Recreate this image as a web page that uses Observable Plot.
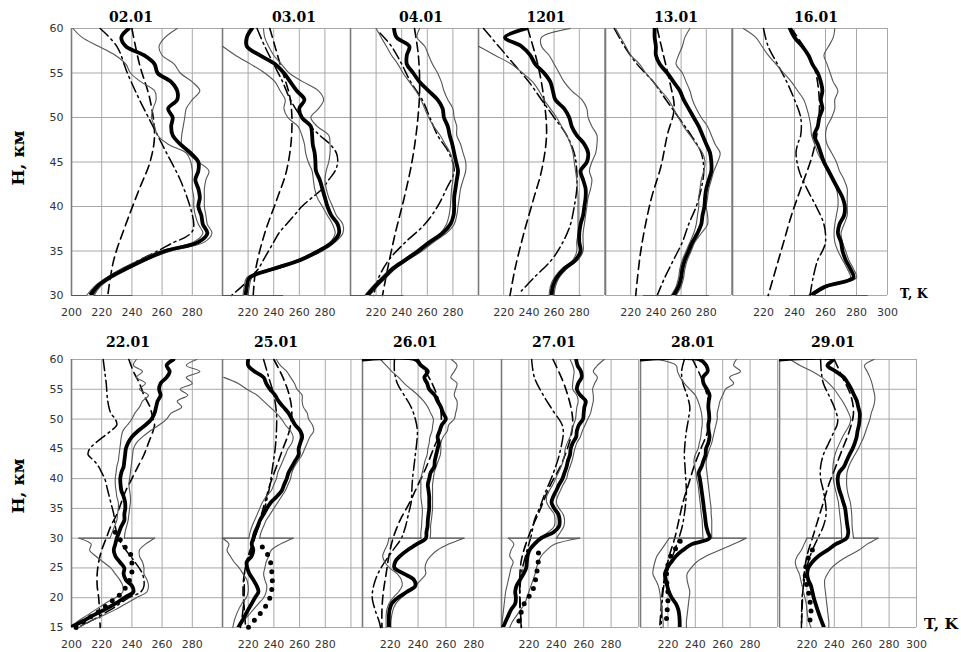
<!DOCTYPE html>
<html><head><meta charset="utf-8">
<script src="https://cdn.jsdelivr.net/npm/d3@7"></script>
<script src="https://cdn.jsdelivr.net/npm/@observablehq/plot@0.6"></script>
<style>
body{margin:0;background:#fff;}
#chart{position:relative;width:961px;height:652px;overflow:hidden;background:#fff;}
.ttl{position:absolute;font-family:"DejaVu Serif",serif;font-weight:bold;font-size:14px;color:#000;transform:translate(-50%,-50%);white-space:nowrap;}
.ylab{position:absolute;font-family:"DejaVu Serif",serif;font-weight:bold;font-size:17px;color:#000;transform:translate(-50%,-50%) rotate(-90deg);white-space:nowrap;}
.xlab{position:absolute;font-family:"DejaVu Serif",serif;font-weight:bold;color:#000;transform:translate(0,-50%);white-space:nowrap;}
</style></head>
<body><div id="chart"></div>
<script>
// ---------- axes / grids ----------
const H_TOP = [60,59,58,57,56,55,54,53,52,51,50,49,48,47,46,45,44,43,42,41,40,39,38,37,36,35,34,33,32,31,30];
const H_BOT = [60,59,58,57,56,55,54,53,52,51,50,49,48,47,46,45,44,43,42,41,40,39,38,37,36,35,34,33,32,31,30,29,28,27,26,25,24,23,22,21,20,19,18,17,16,15];
const H_UPPER = H_TOP;
const H_LOWER = [30,29,28,27,26,25,24,23,22,21,20,19,18,17,16,15];
const YT_TOP = [30,35,40,45,50,55,60];
const YT_BOT = [15,20,25,30,35,40,45,50,55,60];
const XT_FIRST = [200,220,240,260,280];
const XT_MID = [220,240,260,280];
const XT_LAST = [220,240,260,280,300];
const XGRID = [200,220,240,260,280,300];
const TITLES_TOP = ["02.01","03.01","04.01","1201","13.01","16.01"];
const TITLES_BOT = ["22.01","25.01","26.01","27.01","28.01","29.01"];

// ---------- top row data (T in K on H_TOP) ----------
const T_0201 = [238,233,236,248,255,257,266,270,270,264,267,266,267,272,279,284,284,282,284,285,284,286,287,290,284,262,248,236,225,217,213];
const R_0201 = [270,262,258,260,268,272,280,285,280,276,275,274,273,273,277,284,291,289,288,288,288,289,290,293,288,266,250,238,227,219,215];
const L_0201 = [201,207,218,229,236,239,246,255,256,254,253,255,257,264,276,279,280,280,280,281,281,282,284,287,281,259,245,233,223,215,210];
const D_0201 = [[60,240],[56,245],[52,252],[48,255],[45,252],[42,245],[38,236],[34,228],[30,224]];
const DD_0201 = [[60,219],[58,230],[55,237],[52,245],[49,254],[46,263],[43,272],[40,278.5],[38,281],[37.2,280],[36.5,275],[36,268],[35,257],[34,245],[33,234],[32,224],[31,216],[30,211]];

const T_0301 = [223,219,219,229,241,248,253,258,264,260,262,269,270,270.5,272,272.6,273,276,278,280,282,285,290,291,286,275,261,240,221,219,218];
const R_0301 = [232,233,236,240,246,252,263,275,279,275,269,274,283,284,284,283,281,280,281,283,286,289,294,294,288,278,263,243,223,221,220];
const L_0301 = [null,null,200,210,222,233,241,245,249,248,251,259,262,264,265,267,270,271,272,274,278,282,286,288,284,273,258,237,219,217,216];
const D_0301 = [[60,237],[56,245],[52,253],[48,254],[44,250],[41,243],[37,233],[33,226],[30,224]];
const DD_0301 = [[60,227],[58,233],[56,240],[54,247],[52,253],[50,262],[48,276],[47,284],[46,289],[45,290],[44,288],[43,283],[42,278],[41,270],[40,262],[39,256],[38,250],[37,244],[36,240],[35,236],[34,232],[33,228],[32,222],[31,215],[30,207]];

const T_0401 = [234,236,246,244,244,249,254,261,268,272,273,276,277.5,279.5,281,282.5,284,283,282,281,281,280.5,278,272,262,253,243,233,226,219,213];
const R_0401 = [254,252,258,261,264,268,271,273,276,280,281,283,283,286,288,290,290,288,286,285,284,283,281,275,265,256,245,235,228,221,215];
const L_0401 = [220,224,228,232,237,241,246,251,255,258,261,265,270,274,278,280,280,280,279,278.5,278,277,275,270,260,251,241,231,224,217,211];
const D_0401 = [[60,250],[57,253],[53,254],[49,252],[45,248],[41,242],[37,235],[33,229],[30,225]];
const DD_0401 = [[59.5,223],[58,232],[56,240],[54,247],[52,256],[50,262],[48,268],[46,277],[44,281],[42,275],[40,268],[38,258],[36,243],[34,230],[32,222],[30,218]];

const T_1201 = [238,221,234,241,245,252,257,259,261,268,272,274,278,284,287,286,281,283,285,285,284,283,281,280,280,281,277,268,262,259,258];
const R_1201 = [273,250,250,256,260,264,268,274,282,286,287,290,294,294,293,290,288,290,289,287,286,285,284,283,283,283,279,270,264,261,260];
const L_1201 = [null,null,200,213,226,235,243,248,252,257,262,266,270,273,275,276,277,278,278.5,279,279,279,279,279,278,278,275,266,260,257,256];
const D_1201 = [[60,239],[56,247],[52,252],[48,254],[44,250],[41,244],[37,236],[33,229],[30,225]];
const DD_1201 = [[60,204],[58,216],[56,228],[54,240],[52,250],[50,260],[48,270],[46,276],[44,278],[42,278],[40,276],[38,273],[36,267],[34,258],[32,244],[30.5,234]];

const T_1301 = [239,239,240,240,243,249,254,259,262,266,270,274,277,280,283,284,284,282,280,279,278.5,277,276,273,269,266,263,261,260,258,254];
const R_1301 = [267,263,261,258,256,261,264,267,269,272,276,281,284,287,291,289,286,284,282,281,280,281,281,276,271,268,265,263,262,260,256];
const L_1301 = [208,212,216,220,227,232,238,244,250,254,258,262,267,272,277,279,278,276,275,274,274,273,272,270,267,264,261,259,258,256,252];
const D_1301 = [[60,241],[57,246],[54,251],[51,254.5],[48,249],[44.5,244],[40.7,236],[35,228],[30,224]];
const DD_1301 = [[60,207],[58,215],[56,225],[54,238],[52,248],[50,258],[48,268],[46,276],[44,278],[42,276],[40,272],[38,266],[36,261],[34,254],[32,247],[30,241]];

const T_1601 = [237,240,245,249,251.5,255,257,258,257,258,256,255,252.7,255,257,259,262,265,268,271,272.5,272,269,268,270,271,273,276,278,260,250.5];
const R_1601 = [266,265,262,259,261,263,265,268,266,266,264,261,260,261,264,267,269,272,274,274,274,274,272,270,271,273,275,278,280,262,252];
const L_1601 = [207,215,219,223,228,233,238,242,246,248,249.5,250.5,251,253,255,258,261,264,267,268,268,267,266,265.5,266,268,271,274,276,258,249];
const D_1601 = [[60,238],[56,252],[52,256],[48.8,255],[45.8,251.6],[42,244],[39,238],[36,233],[33,228],[30,223]];
const DD_1601 = [[60,220],[58,223],[56,229],[54,235],[52,240],[50,244],[48,244],[47,242],[46,241],[44,243],[42,248],[40,254],[38,259],[36,260],[35,258],[34,255],[32,252],[30,250]];

// horizontal closing of the thin lines at 30 km (left end, right end)
const BASE_L = [200,200,200,228,230,237];
const BASE_R = [240,247,241,281,282,287];

// ---------- bottom row data ----------
const T_2201 = [267.5,263,265,263,259,258,259,257,256,255,253,249,244,240,237.5,236,235.5,235,234.5,233,232.3,232.5,233,234.5,235.5,235.6,235,235,233,231.5,230,229,228,229,232,235,234.5,236,240,241,235,229,222,214,207,199];
const R_2201a = [283,276,285,276,280,272,277,270,273,266,263,258,252,247,243,241,240.5,240,239.5,239,238.5,238,238.5,239,239,238.5,238,237.5,236.5,235.5,235];
const R_2201b = [255,249,245,245,247,248,248,250,251,250,243,236,229,221,212,205];
const L_2201a = [243,241,247,243,249,245,251,247,245,242,240,237,234,233,232.5,232,231.5,231,230,229.5,229,229,229.5,230,231,231,230.5,230,228.5,227,225.5];
const L_2201b = [205,213,212,216,221,226,229,232,234,234,229,222,216,210,204,200];
const P_2201 = [[31,229],[28.3,236],[27,240],[25.5,240],[24,240],[22,237],[20.5,232],[19.5,227],[18,220],[16.5,211],[15,203]];
const D_2201 = [[60,238],[58,241],[56,245],[54,248],[52,252],[50,254],[49,255],[48,254],[46,251],[44,248],[42,244],[40,240],[38,236],[36,233],[34,230],[32,226],[30,223],[28,220],[26,218],[24,217],[22,217],[20,218],[18,218.5],[15,219]];
const DD_2201 = [[60,221],[58,222],[56,223],[53,224],[51,226],[50,229],[49,230],[48,226],[47,221],[46,216],[45,212],[44,211],[43,215],[42,218],[41,220],[40,222],[38,224],[36,226],[34,228],[32,229],[30,231],[28,236],[26,242],[24,247],[22,248],[21,246],[20,238],[18,226],[16,212],[15,204]];

const T_2501 = [220,220,225,232,234,237,241,243.6,247.5,251.4,254,256.6,260.6,262,260.6,259.3,259.3,256.6,254,251.4,250,248,246.2,242.3,237.6,234.5,231.9,229.2,227.4,225.3,224,222.7,224,222.7,218.8,219.3,221,224,226.6,228,225.3,222.7,220,217.5,215,212.3];
const R_2501a = [242,245,250,253,256,258,262,262,263,266,267,270,271,268,266,264,262,259,256,254,253,251,249,246,243,240,237,234,232,230,229];
const R_2501b = [255,245,238,236,234,233,232,233,234.5,234,232,228,224,220,216,213];
const L_2501a = [null,null,null,201,212,219,227,232,237,242,246,249,253,255,254,251,249,247,245,243,242,240,238,234,231,229,227,225,223,221.5,220.5];
const L_2501b = [200,205,203.5,206,209,213,216,219,220,220,218.5,215,212.5,210.5,209,208];
const P_2501 = [[28.5,231],[27,236],[25.5,238],[24,238.5],[22,239],[20,237],[18.7,234],[17.5,230],[16.5,226],[15.5,222],[15,220]];
const D_2501 = [[60,240],[57,247],[54,252],[51,254],[48,252],[45,247],[42,242],[39,237],[36,233],[33,229],[30,225],[27,221],[24,217],[21,216],[18,217],[15,218]];
const DD_2501 = [[60,232],[57,236],[54,240],[51,242],[48,242],[45,241],[42,239],[39,237],[36,234],[33,230],[30,225],[27,220],[24,217],[21,217],[18,216],[15,214]];

const T_2601 = [238,242,247,244.5,246.5,248,252,254,256.4,258,260,257,255.5,254,255,254,253,252,251.6,249,248,247,247.5,248,248,248,247.5,247,246.8,246,245.6,239,232.5,227,223.5,223,230,237,238,232,225.5,221,219.5,219,219,219];
const R_2601a = [264,268,266,263.5,268,267,266,268,268,267,266,262,261,258,256.4,256.4,256,254.5,253,251.6,251,250.4,250.4,250.4,250.4,250.4,250,249.5,249,249,248.7];
const R_2601b = [273,262,254,249,246,245,245.5,242,238,233,228,224,222,221,220.5,220.4];
const L_2601a = [213,217,221,226,230,235,240,244,247,249,251,250.5,250,248.5,248,247,246.5,245,244,243,242,242,242,242,242.5,243,243,242.7,242.5,242,242];
const L_2601b = [219,218,216,214.5,216,219.5,225,228,228.5,226,222,219,217.5,217,217,217];
const D_2601 = [[60,240],[56,250],[52,256],[48,256],[45,251],[42,246],[39,240],[36,234],[33,227],[30,222],[27,219],[24,217],[21,215],[18,214],[15,214]];
const DD_2601 = [[60,223],[58,223],[56,225],[54,230],[52,235],[50,238],[48,239.5],[46,239],[44,238],[42,237],[40,236],[38,235.5],[36,235],[34,233],[32,231],[30,228],[28,222],[26,216],[24,211],[22,208],[20,207],[18,209],[16,212],[15,213]];

const T_2701 = [254.5,255.5,258,258.5,256,255,257.5,261.5,260.5,260,259.5,256.5,255,254.5,252,250.5,250,248.5,247.5,246,244.5,242,240,237.8,236.5,238.5,241.5,242.4,242,238,229,224,220.5,219,218.5,218,216,213.5,211,210,210.5,210,207,205,203,201];
const R_2701a = [275,270,267,270,268,266.5,267,267,266,265,263,261,259,257.5,255,253.5,252.5,251.5,250,248.5,247.5,245,243,241,240,242,245,246,245.5,243,240];
const R_2701b = [257,239,233,229,227,225.5,224.5,223,221.5,220,218.5,217,214,211,208,206];
const L_2701a = [250,252,253,252.5,252,252,255,256,255,254.5,254,252.5,251,250,248,246.5,246,245,243.5,241.5,239.5,237.5,235,233,233,235.5,238.5,239,238.5,234,227];
const L_2701b = [205,209,207,206,208.5,207,206,205,204,203,202.5,202,201.5,201,200.5,200];
const P_2701 = [[27.5,227],[25.4,226.7],[24,225.5],[22.1,224.2],[20.7,221.8],[19.3,217],[18,215],[16.8,213.3],[15.3,212],[15,212]];
const D_2701 = [[60,237.6],[55,247],[49.2,252],[43,244.8],[38.6,235],[34.7,228],[30.8,220.6],[26.3,214.5],[21.8,213.3],[15,214.5]];
const DD_2701 = [[60,222],[57,224],[54,230.5],[51.4,237.6],[48.6,244.8],[44.2,242.4],[40.8,237.6],[37.4,231.5],[35.2,228],[33,224],[30.7,222],[27.4,218],[24,214.5],[19.5,213.3],[15,214.5]];

const T_2801 = [243,248,249,245.6,246,248.5,250.4,249.8,249.5,250,250.2,249.5,249.8,250.4,249.5,247.8,247.5,246,244.5,242.5,243.3,244,244.6,245.2,245.8,246.3,246.9,247.4,248,249.2,250.4,237.5,231,226,222.5,219.5,217.8,218.5,219.5,220.7,222.8,225.8,227.6,228.3,228.6,228.6];
const R_2801a = [270,268,273,265,268,262,260,258,257,256,256,255,254,253,252,250.4,249,248,248,248.5,249,249.5,250,250.5,251,251.5,251.6,252,252,252,252];
const R_2801b = [277,268,258,248,241,237,234,234,235,236,235.5,235,234.5,234,233.5,233.5];
const L_2801a = [213,226,227,229,232,236,240,242,243.5,244.5,245,245,244.4,244,243,242,240,239,239.5,240.5,241,242,242.5,243,243.5,244,244.4,245,245.2,245.4,245.6];
const L_2801b = [221,218,215,212,210.5,209.5,209,211,213,214,214.5,215,215.5,216,216.5,216.5];
const P_2801 = [[29.5,229],[28,225],[27,222],[26,220.5],[25,219.5],[24,219],[23,219],[22,219.5],[21,220],[20,220],[19,220],[18,219.5],[17,219],[16,219],[15,219]];
const D_2801 = [[60,238],[56,246],[52,250],[48,249],[45,244],[42,239],[39,235],[36,231],[33,228],[30,225],[27,221],[24,218],[21,216],[18,215],[15,214]];
const DD_2801 = [[60,232],[58,230],[56,231],[54,234],[52,236],[50,235],[48,233.5],[46,232.5],[44,232],[42,232.5],[40,233],[38,233.5],[36,233],[34,232],[32,230.5],[30,228],[28,225],[26,222],[24,219],[22,217],[20,216],[18,215.5],[15,215]];

const T_2901 = [239,235,241,247,250,252.5,254.5,256.5,257.5,258.6,258.5,258,257,256.3,255,253.3,251,249,247,243.5,242.5,242.8,243.8,245.3,246.6,247.9,248.5,249,249.6,250.2,249,241,235,228.5,224,221,220.2,221,223,224,225,226.3,227.7,229.2,230.8,232.5];
const R_2901a = [269,262,264,266,267.5,268.5,269.5,269.5,268.5,267,266,264.5,263,261.5,259.5,257.5,255,252.5,250.5,249.3,249,249,249.5,250.5,251.7,252.3,252.7,252.9,253,253.5,254];
const R_2901b = [272,264,258,250,243,238,235,233,233,233.5,234,234.5,235,235.5,236,236];
const L_2901a = [208,215,224,231,236,240,243,246,248.5,250.5,252,251,248.5,246,244,242,240.5,239.5,239,239,239.3,240,241,242,243,243.5,244,244.5,245,245.2,245.4];
const L_2901b = [220,218,216,213,211.5,212.5,214.5,215.5,216.5,217.5,218.5,219.5,220,220.5,221.5,223];
const P_2901 = [[28,224],[27,221.5],[26,220],[25,219],[24,218.7],[23,219],[22,220],[21,221],[20,222],[19,222.5],[18,223],[17,223],[16,222],[15,221]];
const D_2901 = [[60,240],[57,246],[54,252],[51,254],[48,251],[45,246],[42,241],[39,236],[36,232],[33,228],[30,224],[27,220],[24,218],[21,217],[18,216.5],[15,216]];
const DD_2901 = [[60,230],[58,230.5],[56,232],[54,236],[52,240],[50,242.5],[49,242],[48,240],[46,236],[44,232],[42,230],[40,230],[38,232],[36,233.5],[34,234],[32,232],[30,228],[28,224],[26,221],[24,219],[22,217.5],[20,216.5],[15,216]];

// ---------- layout ----------
const TOP = {y0: 28, y1: 295, hd: [30, 60], ticks: YT_TOP};
const BOT = {y0: 359, y1: 627, hd: [15, 60], ticks: YT_BOT};
const PANELS = [
  {title: TITLES_TOP[0], row: TOP, x0: 71,  x1: 222, xd: [200,300], xt: XT_FIRST, yAxis: true, T: T_0201, R: R_0201, L: L_0201, D: D_0201, DD: DD_0201, base: [BASE_L[0], BASE_R[0]], tx: 131, ty: 17},
  {title: TITLES_TOP[1], row: TOP, x0: 222, x1: 350, xd: [200,300], xt: XT_MID, T: T_0301, R: R_0301, L: L_0301, D: D_0301, DD: DD_0301, base: [BASE_L[1], BASE_R[1]], tx: 294, ty: 17},
  {title: TITLES_TOP[2], row: TOP, x0: 350, x1: 478, xd: [200,300], xt: XT_MID, T: T_0401, R: R_0401, L: L_0401, D: D_0401, DD: DD_0401, base: [BASE_L[2], BASE_R[2]], tx: 421, ty: 17},
  {title: TITLES_TOP[3], row: TOP, x0: 478, x1: 604, xd: [200,300], xt: XT_MID, T: T_1201, R: R_1201, L: L_1201, D: D_1201, DD: DD_1201, base: [BASE_L[3], BASE_R[3]], tx: 546, ty: 17},
  {title: TITLES_TOP[4], row: TOP, x0: 605, x1: 731, xd: [200,300], xt: XT_MID, T: T_1301, R: R_1301, L: L_1301, D: D_1301, DD: DD_1301, base: [BASE_L[4], BASE_R[4]], tx: 676, ty: 17},
  {title: TITLES_TOP[5], row: TOP, x0: 732, x1: 887, xd: [200,300], xt: XT_LAST, T: T_1601, R: R_1601, L: L_1601, D: D_1601, DD: DD_1601, base: [BASE_L[5], BASE_R[5]], tx: 816, ty: 17},
  {title: TITLES_BOT[0], row: BOT, x0: 71,  x1: 222, xd: [200,300], xt: XT_FIRST, yAxis: true, T: T_2201, R: [R_2201a, R_2201b], L: [L_2201a, L_2201b], P: P_2201, D: D_2201, DD: DD_2201, tx: 128, ty: 342},
  {title: TITLES_BOT[1], row: BOT, x0: 222, x1: 362, xd: [200,309], xt: XT_MID, T: T_2501, R: [R_2501a, R_2501b], L: [L_2501a, L_2501b], P: P_2501, D: D_2501, DD: DD_2501, tx: 276, ty: 342},
  {title: TITLES_BOT[2], row: BOT, x0: 362, x1: 501, xd: [200,300], xt: XT_MID, bar: true, T: T_2601, R: [R_2601a, R_2601b], L: [L_2601a, L_2601b], D: D_2601, DD: DD_2601, tx: 415, ty: 342},
  {title: TITLES_BOT[3], row: BOT, x0: 501, x1: 638, xd: [200,300], xt: XT_MID, T: T_2701, R: [R_2701a, R_2701b], L: [L_2701a, L_2701b], P: P_2701, D: D_2701, DD: DD_2701, tx: 554, ty: 342},
  {title: TITLES_BOT[4], row: BOT, x0: 640, x1: 777, xd: [200,300], xt: XT_MID, bar: true, T: T_2801, R: [R_2801a, R_2801b], L: [L_2801a, L_2801b], P: P_2801, D: D_2801, DD: DD_2801, tx: 693, ty: 342},
  {title: TITLES_BOT[5], row: BOT, x0: 779, x1: 916, xd: [200,300], xt: XT_LAST, bar: true, T: T_2901, R: [R_2901a, R_2901b], L: [L_2901a, L_2901b], P: P_2901, D: D_2901, DD: DD_2901, tx: 833, ty: 342}
];

const chart = document.getElementById("chart");
const toPts = (H, T, seg) => H.map((h, i) => ({h, t: T[i], seg})).filter(d => d.t != null);
const pairPts = (A) => A.map(([h, t]) => ({h, t}));

// thin bound lines: smooth pieces plus the straight jump at 30 km, as separate series
function thin(p, which) {
  const v = p[which];
  if (p.row === TOP) {
    const up = toPts(H_TOP, v, "a");
    const last = up[up.length - 1];
    const end = which === "L" ? p.base[0] : p.base[1];
    return up.concat([{h: 30, t: last.t, seg: "b"}, {h: 30, t: end, seg: "b"}]);
  }
  const up = toPts(H_UPPER, v[0], "a");
  const lo = toPts(H_LOWER, v[1], "c");
  const jump = [{h: 30, t: up[up.length - 1].t, seg: "b"}, {h: 30, t: lo[0].t, seg: "b"}];
  return up.concat(jump, lo);
}

for (const p of PANELS) {
  const row = p.row;
  const H = row === TOP ? H_TOP : H_BOT;
  const mL = 45, mR = 14, mT = 4, mB = 30;
  const thick = toPts(H, p.T, "a");
  if (p.bar) thick.unshift({h: 60, t: p.xd[0], seg: "a"});
  const marks = [
    Plot.ruleX(XGRID, {stroke: "#a8a8a8", strokeWidth: 1}),
    Plot.ruleY(row.ticks, {stroke: "#a8a8a8", strokeWidth: 1}),
    Plot.ruleX([p.xd[0]], {stroke: "#7a7a7a", strokeWidth: 1.6}),
    Plot.line(pairPts(p.D), {x: "t", y: "h", stroke: "#000", strokeWidth: 1.6, strokeDasharray: "9,5", curve: "catmull-rom"}),
    Plot.line(pairPts(p.DD), {x: "t", y: "h", stroke: "#000", strokeWidth: 1.5, strokeDasharray: "11,4,2,4", curve: "catmull-rom"}),
    Plot.line(thin(p, "L"), {x: "t", y: "h", z: "seg", stroke: "#555", strokeWidth: 1.1, curve: "catmull-rom"}),
    Plot.line(thin(p, "R"), {x: "t", y: "h", z: "seg", stroke: "#555", strokeWidth: 1.1, curve: "catmull-rom"})
  ];
  if (p.P) marks.push(Plot.line(pairPts(p.P), {x: "t", y: "h", stroke: "#000", strokeWidth: 5, strokeDasharray: "0,9", strokeLinecap: "round"}));
  marks.push(Plot.line(thick, {x: "t", y: "h", stroke: "#000", strokeWidth: 3.8, curve: "catmull-rom", clip: true, strokeLinejoin: "round"}));

  const svg = Plot.plot({
    width: (p.x1 - p.x0) + mL + mR,
    height: (row.y1 - row.y0) + mT + mB,
    marginLeft: mL, marginRight: mR, marginTop: mT, marginBottom: mB,
    style: {background: "transparent", overflow: "visible", fontFamily: "'DejaVu Sans', sans-serif", fontSize: "11px", color: "#333"},
    x: {domain: p.xd, ticks: p.xt, tickSize: 0, tickPadding: 13, label: null, axis: "bottom", tickFormat: d => String(d)},
    y: {domain: row.hd, ticks: row.ticks, tickSize: 0, tickPadding: 8, label: null, axis: p.yAxis ? "left" : null, tickFormat: d => String(d)},
    marks
  });
  svg.style.position = "absolute";
  svg.style.left = (p.x0 - mL) + "px";
  svg.style.top = (row.y0 - mT) + "px";
  svg.style.maxWidth = "none";
  chart.appendChild(svg);

  const t = document.createElement("div");
  t.className = "ttl";
  t.textContent = p.title;
  t.style.left = p.tx + "px";
  t.style.top = p.ty + "px";
  chart.appendChild(t);
}

function addLabel(cls, text, x, y, size) {
  const d = document.createElement("div");
  d.className = cls;
  d.textContent = text;
  d.style.left = x + "px";
  d.style.top = y + "px";
  if (size) d.style.fontSize = size + "px";
  chart.appendChild(d);
}
addLabel("ylab", "H, км", 18, 158);
addLabel("ylab", "H, км", 18, 486);
addLabel("xlab", "T, K", 900, 293, 12.5);
addLabel("xlab", "T, K", 924, 623, 15.5);
</script>
</body></html>
